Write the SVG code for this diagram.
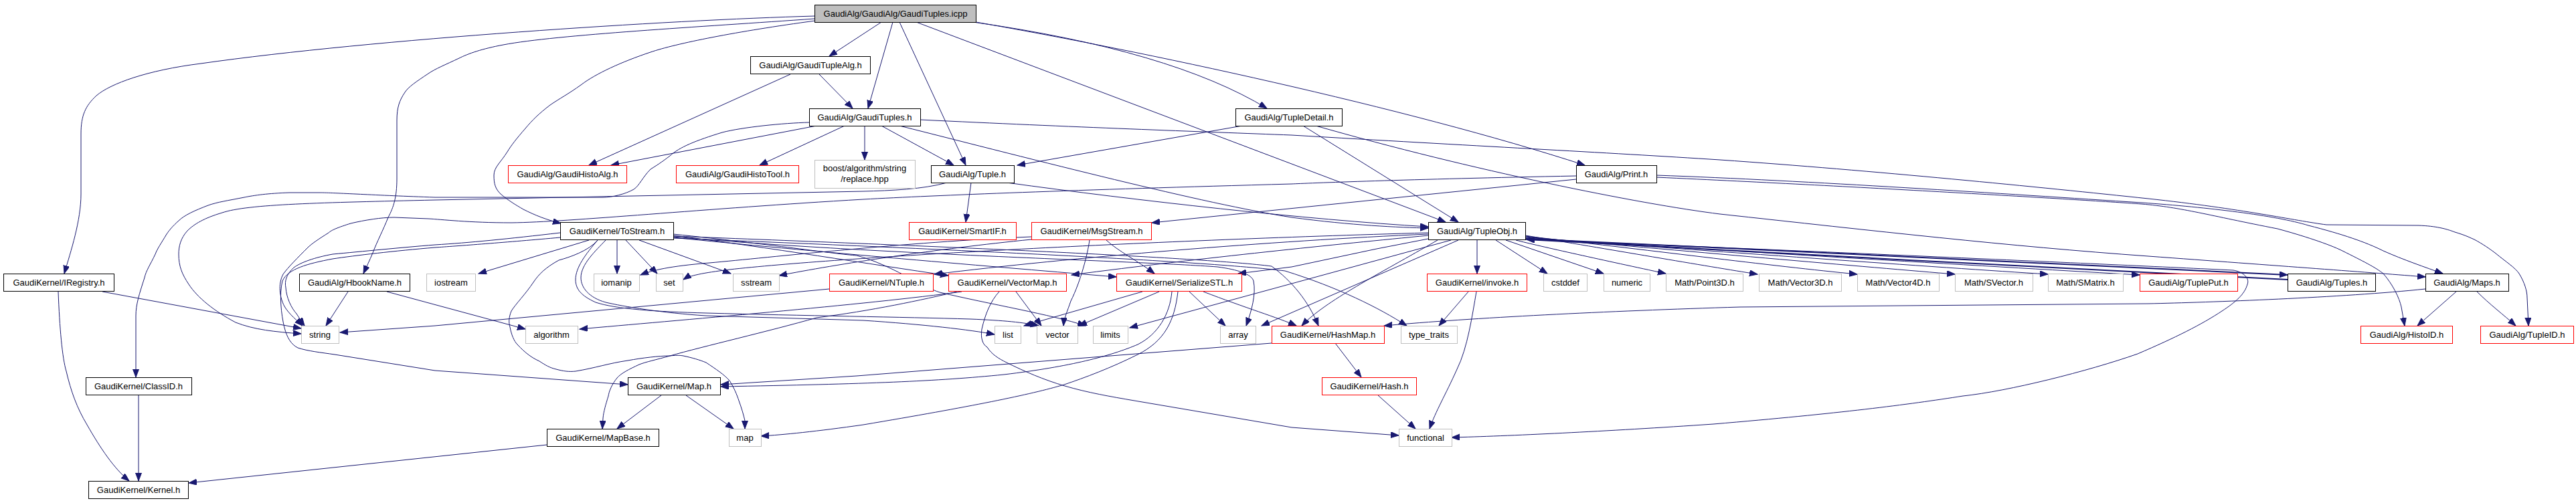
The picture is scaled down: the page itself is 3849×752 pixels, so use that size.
<svg xmlns="http://www.w3.org/2000/svg" width="3849" height="752" viewBox="0 0 3849 752">
<style>
.nd rect{fill:#fff;stroke:#000;stroke-width:1}
.rd rect{fill:#fff;stroke:#f00;stroke-width:1}
.gr rect{fill:#fff;stroke:#bfbfbf;stroke-width:1}
.rt rect{fill:#bfbfbf;stroke:#000;stroke-width:1}
text{font-family:"Liberation Sans",Arial,Helvetica,sans-serif;font-size:13px;text-anchor:middle;fill:#000}
#edges path{fill:none;stroke:#191970;stroke-width:1;marker-end:url(#ah)}
#edges path.tk{stroke-width:2}
</style>
<defs>
<marker id="ah" markerUnits="userSpaceOnUse" markerWidth="14" markerHeight="11" refX="12" refY="4.5" orient="auto"><path d="M0,0 L12,4.5 L0,9 z" fill="#191970" stroke="#191970" stroke-width="1"/></marker>
</defs>
<rect width="3849" height="752" fill="#fff"/>
<g id="edges">
<path d="M1217,24 C1000,30 560,58 300,95 C220,105 165,125 144,143 C128,158 121,172 121,200 L121,290 C121,330 106,375 96,409"/>
<path d="M1217,28 C1050,40 830,52 752,67 C720,73 700,80 686,87 C665,97 650,103 640,110 C622,122 610,130 605,138 C597,150 593,160 593,180 L593,267 C593,295 588,310 580,325 C572,345 563,362 557,378 C552,390 547,400 543,409"/>
<path d="M1218,31 C1100,47 1010,65 972,78 C930,92 890,110 868,127 C850,140 835,148 822,157 C805,170 795,180 785,192 C772,207 764,217 758,227 C748,243 738,250 738,262 C738,275 740,282 748,290 C760,300 770,306 782,313 C800,322 815,328 838,334"/>
<path d="M1317,33 L1239,84"/>
<path d="M1334,33 L1297,162"/>
<path d="M1344,33 L1443,247"/>
<path d="M1369,33 L2160,332"/>
<path d="M1454,33 Q1750,75 1893,162"/>
<path d="M1458,33 C1700,75 2100,160 2368,247"/>
<path d="M1181,111 L880,247"/>
<path d="M1224,111 L1274,162"/>
<path d="M1220,188 L913,247"/>
<path d="M1262,188 L1135,247"/>
<path d="M1292,188 L1292,239"/>
<path d="M1317,188 L1425,247"/>
<path d="M1344,188 C1550,240 1800,305 1930,325 C2020,337 2090,340 2134,341"/>
<path d="M1504,273 C1700,300 1950,328 2134,339"/>
<path d="M1451,273 L1443,332"/>
<path d="M1415,273 C1380,283 1330,285 1290,286 L650,299 C480,303 370,305 332,318 C305,326 290,335 280,345 C270,356 267,368 267,380 C267,398 272,410 282,425 C295,445 320,465 352,482 C380,493 410,496 450,499"/>
<path d="M1209,183 C1170,184 1110,190 1079,198 C1040,210 1015,220 1001,233 C988,243 980,248 972,253 C960,265 955,278 947,283 C935,290 915,295 901,295 L650,295 C560,292 500,288 477,288 L433,288 C400,289 380,292 365,295 C340,300 325,302 311,307 C290,315 275,322 267,330 C258,338 253,344 249,350 C240,365 235,372 232,380 C225,395 218,405 216,415 C208,440 203,455 203,472 L203,564"/>
<path d="M2355,268 L1721,333"/>
<path d="M2355,263 C2100,268 1950,274 1930,275 C1600,284 1400,292 1290,298 C1050,312 850,332 764,333 C700,333 660,328 640,327 L589,325 C570,325 545,329 524,334 C505,340 495,344 491,348 C475,358 465,365 460,370 C445,385 430,400 423,410 C415,425 418,445 425,458 C432,470 445,480 452,487"/>
<path d="M1856,188 L1520,247"/>
<path d="M1947,188 L2179,332"/>
<path d="M1966,188 C2200,255 2450,305 2570,320 C2800,345 3000,368 3210,383 C3400,397 3550,408 3624,414"/>
<path d="M1375,179 C1600,190 1800,197 1930,202 C2200,218 2400,228 2570,239 C2800,255 3050,280 3210,297 C3350,312 3430,330 3476,336 L3614,337 C3640,338 3655,342 3668,347 C3685,352 3692,356 3697,358 C3710,365 3720,372 3728,378 C3745,392 3758,400 3764,409 C3772,422 3776,435 3776,445 L3778,487"/>
<path d="M2475,262 C2700,270 3000,290 3200,303 C3300,310 3400,322 3449,337 C3500,350 3535,362 3561,375 C3590,388 3625,400 3650,409"/>
<path d="M2475,265 C2800,280 3100,298 3200,305 C3260,310 3300,322 3403,342 C3440,352 3480,365 3500,375 C3530,390 3550,400 3561,409 C3575,425 3585,445 3588,459 L3593,487"/>
<path d="M3670,436 L3612,487"/>
<path d="M3701,436 C3720,455 3740,470 3759,487"/>
<path d="M3624,432 C3500,445 3300,452 3210,454 L2600,459 C2400,465 2200,475 2068,487"/>
<path d="M1995,513 L2034,564"/>
<path d="M1900,513 L1280,562 L1077,575"/>
<path d="M1751,436 C1748,470 1730,500 1700,515 C1660,532 1600,548 1500,560 C1400,570 1300,574 1077,578"/>
<path d="M1760,436 C1755,480 1740,510 1700,530 C1660,550 1620,565 1590,575 C1540,590 1450,608 1290,635 C1220,645 1170,650 1137,652"/>
<path d="M1798,436 C1860,460 1910,475 1937,487"/>
<path d="M1707,436 L1530,487"/>
<path d="M1732,436 L1612,487"/>
<path d="M1777,436 L1831,487"/>
<path d="M1493,436 C1480,450 1472,470 1467,492 C1465,505 1468,515 1475,519 C1482,530 1492,536 1504,542 C1530,555 1560,568 1591,577 C1625,587 1660,593 1695,599 L1930,639 L2090,651"/>
<path d="M1518,436 L1556,487"/>
<path d="M1437,436 C1300,455 1000,480 866,492"/>
<path d="M1430,436 C1380,448 1300,465 1220,475 C1150,495 1050,518 1001,532 C980,538 965,541 955,545 C940,552 928,558 922,565 C914,575 910,585 909,592 C905,605 902,615 901,625 L900,641"/>
<path d="M893,359 C880,375 850,385 835,389 C815,400 805,410 797,422 C785,440 770,455 764,465 C760,475 760,482 762,489 C764,500 768,510 773,515 C785,528 795,535 806,540 C815,546 822,550 831,552 C842,555 850,556 860,555 C890,550 910,543 938,539 C960,535 985,532 1001,532 C1010,531 1015,531 1021,532 C1035,535 1045,538 1055,542 C1070,552 1082,560 1090,569 C1097,580 1101,590 1104,599 C1108,610 1111,620 1113,629 L1113,641"/>
<path d="M880,359 L715,409"/>
<path d="M922,359 L922,409"/>
<path d="M935,359 L982,409"/>
<path d="M955,359 L1092,409"/>
<path d="M837,348 C760,357 700,363 650,366 C600,370 540,376 497,380 C470,385 450,392 439,400 C428,410 425,420 427,430 C428,445 435,460 443,469 C447,475 450,480 455,487"/>
<path d="M837,355 C760,362 680,368 650,370 C590,375 530,382 497,387 C460,394 430,402 422,420 C417,440 420,470 425,490 C429,505 435,515 445,520 C460,525 480,527 500,530 L650,554 L938,575"/>
<path d="M1006,352 C1150,370 1300,395 1417,412"/>
<path d="M1006,355 C1200,375 1500,400 1668,414"/>
<path d="M905,359 C890,375 868,395 868,415 C868,430 880,445 905,452 C930,458 990,468 1055,472 L1290,479 C1380,485 1450,493 1486,500"/>
<path d="M893,359 C875,380 860,400 860,418 C860,432 868,442 890,452 C920,462 980,466 1055,468 C1200,472 1350,474 1450,477 C1500,479 1530,482 1552,487"/>
<path d="M1006,350 C1150,365 1250,380 1280,382 C1330,395 1380,430 1404,437 C1480,455 1570,470 1622,487"/>
<path d="M1006,354 C1300,380 1700,390 1819,399 C1850,403 1870,410 1873,420 C1877,440 1870,465 1862,487"/>
<path d="M1006,356 C1400,372 1800,390 1920,405 C2000,430 2060,460 2102,487"/>
<path d="M1006,353 C1400,368 1800,385 1900,398 C1930,420 1955,450 1970,487"/>
<path d="M2207,359 L2207,409"/>
<path d="M2235,359 L2312,409"/>
<path d="M2250,359 L2396,409"/>
<path d="M2265,359 C2300,368 2400,390 2489,409"/>
<path d="M2279,352 C2400,372 2550,398 2626,410"/>
<path d="M2279,353 C2450,372 2650,398 2775,410"/>
<path d="M2279,354 C2500,374 2800,400 2921,410"/>
<path d="M2279,355 C2550,375 2900,400 3060,410"/>
<path d="M2279,356 C2600,376 3000,400 3197,411"/>
<path class="tk" d="M2279,357 C2700,377 3200,398 3418,411"/>
<path class="tk" d="M3418,418 C3100,400 2600,378 2281,358"/>
<path d="M2279,358 C2700,375 3150,395 3337,404 C3350,406 3362,415 3358,425 C3354,440 3340,452 3320,465 C3290,485 3250,505 3194,529 C3120,555 3000,585 2933,592 C2850,605 2750,618 2560,634 C2400,645 2250,652 2169,654"/>
<path d="M2179,359 L1885,487"/>
<path d="M2168,359 L1930,424 L1688,490"/>
<path d="M2134,357 L2057,372 L1930,399 L1850,409"/>
<path d="M2134,352 C2000,365 1800,385 1601,411"/>
<path d="M2134,350 C1900,360 1600,385 1396,410"/>
<path d="M2134,348 C1700,360 1250,385 1090,403 C1050,408 1030,412 1021,418"/>
<path d="M2148,359 C2060,410 1980,450 1945,487"/>
<path d="M1541,354 C1350,362 1150,385 1060,393 C1000,398 975,404 957,411"/>
<path d="M1541,358 C1400,372 1250,395 1164,412"/>
<path d="M1653,359 C1670,375 1700,390 1725,409"/>
<path d="M1628,359 C1625,380 1615,420 1600,450 C1595,465 1590,475 1589,487"/>
<path d="M1239,432 L650,487 L508,497"/>
<path d="M2194,436 L2150,487"/>
<path d="M2206,436 C2200,470 2193,520 2177,552 C2160,590 2145,615 2136,641"/>
<path d="M2059,591 L2115,641"/>
<path d="M578,436 L785,492"/>
<path d="M520,436 L487,487"/>
<path d="M153,436 L450,491"/>
<path d="M87,436 C89,490 93,535 99,555 C106,585 115,610 130,635 C150,670 170,700 193,719"/>
<path d="M207,591 L207,719"/>
<path d="M817,665 L282,722"/>
<path d="M988,591 L922,641"/>
<path d="M1025,591 L1096,641"/>
</g>
<g id="n_root" class="rt"><rect x="1217.5" y="7.5" width="241" height="26"/><text x="1338" y="25">GaudiAlg/GaudiAlg/GaudiTuples.icpp</text></g>
<g id="n_gaudituplealg" class="nd"><rect x="1121.5" y="84.5" width="179" height="26"/><text x="1211" y="102">GaudiAlg/GaudiTupleAlg.h</text></g>
<g id="n_gaudituples" class="nd"><rect x="1209.5" y="162.5" width="166" height="26"/><text x="1292" y="180">GaudiAlg/GaudiTuples.h</text></g>
<g id="n_tupledetail" class="nd"><rect x="1846.5" y="162.5" width="159" height="26"/><text x="1926" y="180">GaudiAlg/TupleDetail.h</text></g>
<g id="n_gaudihistoalg" class="rd"><rect x="759.5" y="247.5" width="177" height="26"/><text x="848" y="265">GaudiAlg/GaudiHistoAlg.h</text></g>
<g id="n_gaudihistotool" class="rd"><rect x="1010.5" y="247.5" width="183" height="26"/><text x="1102" y="265">GaudiAlg/GaudiHistoTool.h</text></g>
<g id="n_boost" class="gr"><rect x="1217.5" y="239.5" width="150" height="42"/><text x="1292" y="256">boost/algorithm/string</text><text x="1292" y="272">/replace.hpp</text></g>
<g id="n_tuple" class="nd"><rect x="1391.5" y="247.5" width="124" height="26"/><text x="1453" y="265">GaudiAlg/Tuple.h</text></g>
<g id="n_print" class="nd"><rect x="2355.5" y="247.5" width="120" height="26"/><text x="2415" y="265">GaudiAlg/Print.h</text></g>
<g id="n_tostream" class="nd"><rect x="837.5" y="332.5" width="169" height="26"/><text x="922" y="350">GaudiKernel/ToStream.h</text></g>
<g id="n_smartif" class="rd"><rect x="1358.5" y="332.5" width="160" height="26"/><text x="1438" y="350">GaudiKernel/SmartIF.h</text></g>
<g id="n_msgstream" class="rd"><rect x="1541.5" y="332.5" width="179" height="26"/><text x="1631" y="350">GaudiKernel/MsgStream.h</text></g>
<g id="n_tupleobj" class="nd"><rect x="2134.5" y="332.5" width="145" height="26"/><text x="2207" y="350">GaudiAlg/TupleObj.h</text></g>
<g id="n_iregistry" class="nd"><rect x="5.5" y="409.5" width="165" height="26"/><text x="88" y="427">GaudiKernel/IRegistry.h</text></g>
<g id="n_hbookname" class="nd"><rect x="447.5" y="409.5" width="165" height="26"/><text x="530" y="427">GaudiAlg/HbookName.h</text></g>
<g id="n_iostream" class="gr"><rect x="637.5" y="409.5" width="73" height="26"/><text x="674" y="427">iostream</text></g>
<g id="n_iomanip" class="gr"><rect x="887.5" y="409.5" width="68" height="26"/><text x="921" y="427">iomanip</text></g>
<g id="n_set" class="gr"><rect x="980.5" y="409.5" width="40" height="26"/><text x="1000" y="427">set</text></g>
<g id="n_sstream" class="gr"><rect x="1095.5" y="409.5" width="69" height="26"/><text x="1130" y="427">sstream</text></g>
<g id="n_ntuple" class="rd"><rect x="1239.5" y="409.5" width="155" height="26"/><text x="1317" y="427">GaudiKernel/NTuple.h</text></g>
<g id="n_vectormap" class="rd"><rect x="1417.5" y="409.5" width="176" height="26"/><text x="1505" y="427">GaudiKernel/VectorMap.h</text></g>
<g id="n_serializestl" class="rd"><rect x="1668.5" y="409.5" width="187" height="26"/><text x="1762" y="427">GaudiKernel/SerializeSTL.h</text></g>
<g id="n_invoke" class="rd"><rect x="2132.5" y="409.5" width="149" height="26"/><text x="2207" y="427">GaudiKernel/invoke.h</text></g>
<g id="n_cstddef" class="gr"><rect x="2306.5" y="409.5" width="65" height="26"/><text x="2339" y="427">cstddef</text></g>
<g id="n_numeric" class="gr"><rect x="2396.5" y="409.5" width="69" height="26"/><text x="2431" y="427">numeric</text></g>
<g id="n_point3d" class="gr"><rect x="2489.5" y="409.5" width="115" height="26"/><text x="2547" y="427">Math/Point3D.h</text></g>
<g id="n_vector3d" class="gr"><rect x="2628.5" y="409.5" width="123" height="26"/><text x="2690" y="427">Math/Vector3D.h</text></g>
<g id="n_vector4d" class="gr"><rect x="2775.5" y="409.5" width="122" height="26"/><text x="2836" y="427">Math/Vector4D.h</text></g>
<g id="n_svector" class="gr"><rect x="2921.5" y="409.5" width="116" height="26"/><text x="2979" y="427">Math/SVector.h</text></g>
<g id="n_smatrix" class="gr"><rect x="3060.5" y="409.5" width="112" height="26"/><text x="3116" y="427">Math/SMatrix.h</text></g>
<g id="n_tupleput" class="rd"><rect x="3197.5" y="409.5" width="146" height="26"/><text x="3270" y="427">GaudiAlg/TuplePut.h</text></g>
<g id="n_tuples" class="nd"><rect x="3418.5" y="409.5" width="131" height="26"/><text x="3484" y="427">GaudiAlg/Tuples.h</text></g>
<g id="n_maps" class="nd"><rect x="3624.5" y="409.5" width="124" height="26"/><text x="3686" y="427">GaudiAlg/Maps.h</text></g>
<g id="n_string" class="gr"><rect x="450.5" y="487.5" width="56" height="26"/><text x="478" y="505">string</text></g>
<g id="n_algorithm" class="gr"><rect x="785.5" y="487.5" width="78" height="26"/><text x="824" y="505">algorithm</text></g>
<g id="n_list" class="gr"><rect x="1486.5" y="487.5" width="39" height="26"/><text x="1506" y="505">list</text></g>
<g id="n_vector" class="gr"><rect x="1549.5" y="487.5" width="61" height="26"/><text x="1580" y="505">vector</text></g>
<g id="n_limits" class="gr"><rect x="1633.5" y="487.5" width="52" height="26"/><text x="1659" y="505">limits</text></g>
<g id="n_array" class="gr"><rect x="1823.5" y="487.5" width="53" height="26"/><text x="1850" y="505">array</text></g>
<g id="n_hashmap" class="rd"><rect x="1900.5" y="487.5" width="168" height="26"/><text x="1984" y="505">GaudiKernel/HashMap.h</text></g>
<g id="n_typetraits" class="gr"><rect x="2093.5" y="487.5" width="84" height="26"/><text x="2135" y="505">type_traits</text></g>
<g id="n_histoid" class="rd"><rect x="3527.5" y="487.5" width="137" height="26"/><text x="3596" y="505">GaudiAlg/HistoID.h</text></g>
<g id="n_tupleid" class="rd"><rect x="3706.5" y="487.5" width="139" height="26"/><text x="3776" y="505">GaudiAlg/TupleID.h</text></g>
<g id="n_classid" class="nd"><rect x="128.5" y="564.5" width="158" height="26"/><text x="207" y="582">GaudiKernel/ClassID.h</text></g>
<g id="n_map_h" class="nd"><rect x="938.5" y="564.5" width="138" height="26"/><text x="1007" y="582">GaudiKernel/Map.h</text></g>
<g id="n_hash" class="rd"><rect x="1975.5" y="564.5" width="141" height="26"/><text x="2046" y="582">GaudiKernel/Hash.h</text></g>
<g id="n_mapbase" class="nd"><rect x="817.5" y="641.5" width="167" height="26"/><text x="901" y="659">GaudiKernel/MapBase.h</text></g>
<g id="n_map" class="gr"><rect x="1089.5" y="641.5" width="48" height="26"/><text x="1113" y="659">map</text></g>
<g id="n_functional" class="gr"><rect x="2090.5" y="641.5" width="79" height="26"/><text x="2130" y="659">functional</text></g>
<g id="n_kernel" class="nd"><rect x="132.5" y="719.5" width="149" height="26"/><text x="207" y="737">GaudiKernel/Kernel.h</text></g>
</svg>
